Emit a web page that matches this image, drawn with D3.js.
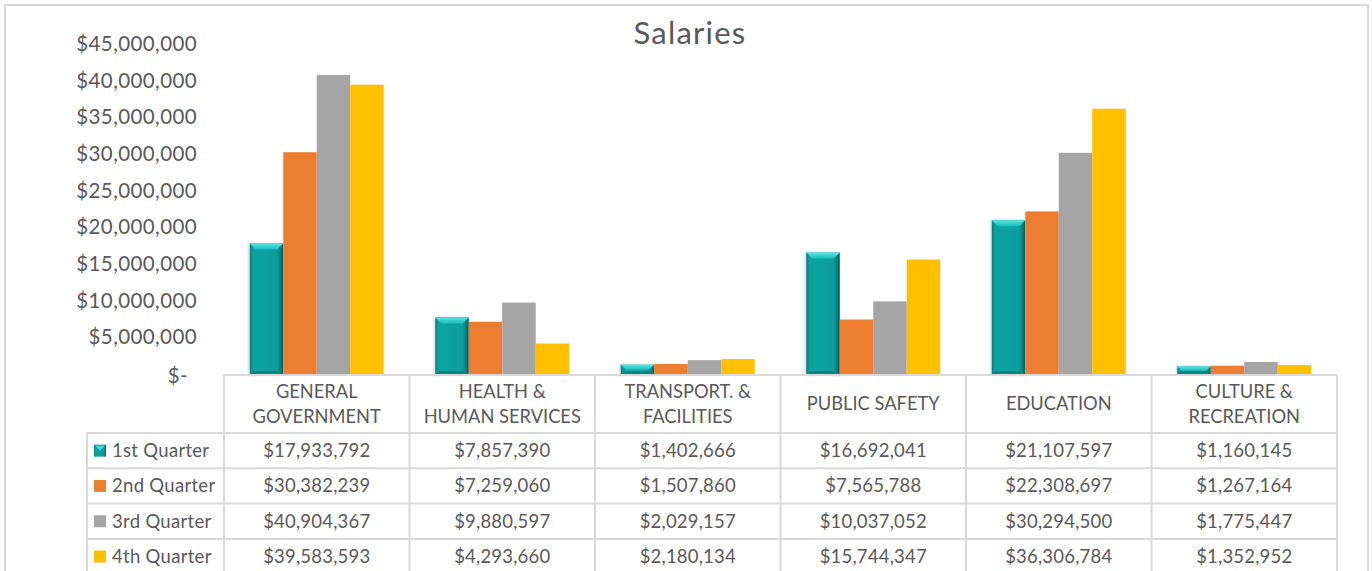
<!DOCTYPE html>
<html>
<head>
<meta charset="utf-8">
<script src="https://cdn.jsdelivr.net/npm/d3@7"></script>
<style>
  body { margin: 0; background: #fff; }
  text { font-family: Lato, "Open Sans", sans-serif; fill: #595959; }
</style>
</head>
<body>
<div id="chart"></div>
<script>
// Chart data
const categories = ["GENERAL GOVERNMENT", "HEALTH & HUMAN SERVICES", "TRANSPORT. & FACILITIES", "PUBLIC SAFETY", "EDUCATION", "CULTURE & RECREATION"];
// how each category label wraps in the header row
const categoryLines = [["GENERAL", "GOVERNMENT"], ["HEALTH &", "HUMAN SERVICES"], ["TRANSPORT. &", "FACILITIES"], ["PUBLIC SAFETY"], ["EDUCATION"], ["CULTURE &", "RECREATION"]];
const seriesNames = ["1st Quarter", "2nd Quarter", "3rd Quarter", "4th Quarter"];
const q1 = [17933792, 7857390, 1402666, 16692041, 21107597, 1160145];
const q2 = [30382239, 7259060, 1507860, 7565788, 22308697, 1267164];
const q3 = [40904367, 9880597, 2029157, 10037052, 30294500, 1775447];
const q4 = [39583593, 4293660, 2180134, 15744347, 36306784, 1352952];
const yTicks = [0, 5000000, 10000000, 15000000, 20000000, 25000000, 30000000, 35000000, 40000000, 45000000];
const colors = ["#0a9e9e", "#ed7d31", "#a5a5a5", "#ffc000"];

const series = [q1, q2, q3, q4];
const W = 1372, H = 571;

const svg = d3.select("#chart").append("svg")
    .attr("width", W)
    .attr("height", H);

// gradients for the bevelled 1st quarter bars
const defs = svg.append("defs");
const grad = defs.append("linearGradient").attr("id", "tealGrad")
    .attr("x1", "0").attr("x2", "1").attr("y1", "0").attr("y2", "0");
grad.append("stop").attr("offset", "0%").attr("stop-color", "#077a7a");
grad.append("stop").attr("offset", "10%").attr("stop-color", "#0aa3a3");
grad.append("stop").attr("offset", "82%").attr("stop-color", "#0a9e9e");
grad.append("stop").attr("offset", "100%").attr("stop-color", "#055f5f");
const topGrad = defs.append("linearGradient").attr("id", "topGrad")
    .attr("x1", "0").attr("x2", "0").attr("y1", "0").attr("y2", "1");
topGrad.append("stop").attr("offset", "0%").attr("stop-color", "#52e6e6");
topGrad.append("stop").attr("offset", "100%").attr("stop-color", "#1cbcbc");
const shadow = defs.append("filter").attr("id", "shadow")
    .attr("x", "-30%").attr("y", "-10%").attr("width", "160%").attr("height", "120%");
shadow.append("feDropShadow").attr("dx", -1).attr("dy", 0).attr("stdDeviation", 1.5)
    .attr("flood-color", "#000").attr("flood-opacity", 0.2);

// outer chart frame
svg.append("rect")
    .attr("x", 5).attr("y", 5).attr("width", 1363).attr("height", 580)
    .attr("fill", "none").attr("stroke", "#d9d9d9").attr("stroke-width", 2);

// title
svg.append("text")
    .attr("x", 690).attr("y", 44)
    .attr("text-anchor", "middle")
    .style("font-size", "31px")
    .style("letter-spacing", "1.2px")
    .text("Salaries");

// scales
const x = d3.scaleBand().domain(categories).range([224, 1337]);
const xInner = d3.scaleBand().domain(d3.range(4)).range([0, x.bandwidth()]).paddingOuter(0.77);
const y = d3.scaleLinear().domain([0, 45000000]).range([375, 45]);

// y axis (labels only)
const fmt = d3.format("$,");
const yAxis = svg.append("g")
    .attr("transform", "translate(197,-1)")
    .call(d3.axisLeft(y).tickValues(yTicks).tickSize(0).tickPadding(0)
        .tickFormat(d => d === 0 ? "$-" : fmt(d)));
yAxis.select(".domain").remove();
yAxis.selectAll("text")
    .style("font-size", "20.5px")
    .style("letter-spacing", "0.4px")
    .style("font-family", "Lato, 'Open Sans', sans-serif")
    .attr("fill", "#595959");
// "$-" sits a little right of the others
yAxis.selectAll(".tick").filter(d => d === 0).select("text")
    .attr("x", -9).attr("dy", "0.4em");

// bars
const groups = svg.selectAll("g.cat")
    .data(categories)
    .join("g")
    .attr("class", "cat")
    .attr("transform", d => `translate(${x(d)},0)`);

series.forEach((vals, s) => {
    groups.append("rect")
        .attr("x", xInner(s))
        .attr("y", (d, i) => y(vals[i]))
        .attr("width", xInner.bandwidth())
        .attr("height", (d, i) => y(0) - y(vals[i]))
        .attr("fill", s === 0 ? "url(#tealGrad)" : colors[s])
        .attr("filter", s === 0 ? "url(#shadow)" : null);
});

// bevel on the 1st quarter bars
groups.append("path")
    .attr("fill", "url(#topGrad)")
    .attr("d", (d, i) => {
        const x0 = xInner(0), w = xInner.bandwidth(), top = y(q1[i]);
        const b = Math.min(6, (y(0) - top) / 2);
        return `M${x0},${top}L${x0 + w},${top}L${x0 + w - b},${top + b}L${x0 + b},${top + b}Z`;
    });
groups.append("path")
    .attr("fill", "#078585")
    .attr("d", (d, i) => {
        const x0 = xInner(0), w = xInner.bandwidth(), bot = y(0), top = y(q1[i]);
        const b = Math.min(4, (bot - top) / 2);
        return `M${x0},${bot}L${x0 + w},${bot}L${x0 + w - b},${bot - b}L${x0 + b},${bot - b}Z`;
    });

// data table
const rowTop = 433, rowH = 35.3;
const tableColor = "#d9d9d9";
const grid = svg.append("g").attr("stroke", tableColor).attr("stroke-width", 2);

// axis line / table top
grid.append("line").attr("x1", 224).attr("x2", 1337).attr("y1", 375).attr("y2", 375);
// column lines
const colEdges = categories.map(c => x(c)).concat([x.range()[1]]);
grid.selectAll("line.col").data(colEdges).join("line")
    .attr("class", "col")
    .attr("x1", d => d).attr("x2", d => d)
    .attr("y1", 375).attr("y2", H);
// row lines
const rowLines = d3.range(5).map(i => rowTop + i * rowH);
grid.selectAll("line.row").data(rowLines).join("line")
    .attr("class", "row")
    .attr("x1", 87).attr("x2", 1337)
    .attr("y1", d => d).attr("y2", d => d);
grid.append("line").attr("x1", 87).attr("x2", 87).attr("y1", rowTop).attr("y2", H);

// category headers
const header = svg.selectAll("text.cat")
    .data(categories)
    .join("text")
    .attr("class", "cat")
    .attr("text-anchor", "middle")
    .style("font-size", "18.3px")
    .attr("x", d => x(d) + x.bandwidth() / 2)
    .attr("y", (d, i) => categoryLines[i].length === 1 ? 404 : 392)
    .attr("dy", "0.35em");
header.selectAll("tspan")
    .data((d, i) => categoryLines[i])
    .join("tspan")
    .attr("x", function() { return d3.select(this.parentNode).attr("x"); })
    .attr("dy", (d, j) => j === 0 ? "0.35em" : "25")
    .text(d => d);

// rows: legend key, name, values
series.forEach((vals, s) => {
    const cy = rowTop + s * rowH + rowH / 2;
    if (s === 0) {
        svg.append("rect").attr("x", 94).attr("y", cy - 6).attr("width", 12).attr("height", 12)
            .attr("fill", "url(#tealGrad)");
        svg.append("path").attr("fill", "#3fd9d9")
            .attr("d", `M95,${cy - 5}L105,${cy - 5}L100,${cy}Z`);
    } else {
        svg.append("rect").attr("x", 94).attr("y", cy - 6).attr("width", 12).attr("height", 12)
            .attr("fill", colors[s]);
    }
    svg.append("text")
        .attr("x", 112).attr("y", cy).attr("dy", "0.35em")
        .style("font-size", "18.5px")
        .style("letter-spacing", "0.3px")
        .text(seriesNames[s]);
    svg.selectAll(null)
        .data(vals)
        .join("text")
        .attr("text-anchor", "middle")
        .style("font-size", "18.5px")
        .style("letter-spacing", "0.2px")
        .attr("x", (d, i) => x(categories[i]) + x.bandwidth() / 2)
        .attr("y", cy).attr("dy", "0.35em")
        .text(d => fmt(d));
});
</script>
</body>
</html>
